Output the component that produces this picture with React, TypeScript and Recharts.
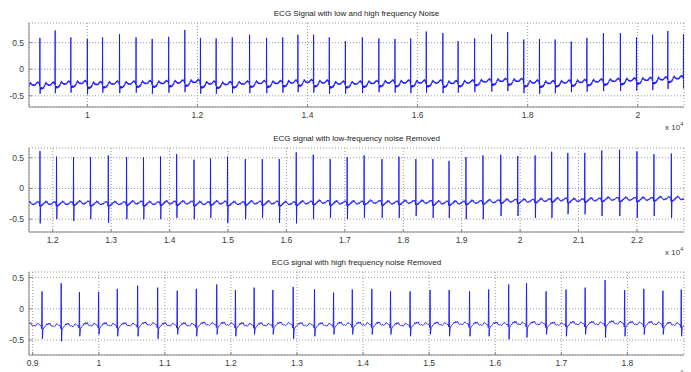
import React from 'react';
import { LineChart, Line, XAxis, YAxis, CartesianGrid } from 'recharts';

// ---------- Panel 1: ECG Signal with low and high frequency Noise ----------
const beatPos1 = [8850, 9138, 9415, 9700, 10000, 10277, 10585, 10885, 11178, 11478, 11771, 12055, 12340, 12633, 12948, 13256, 13549, 13826, 14111, 14396, 14688, 14996, 15296, 15589, 15874, 16158, 16459, 16736, 17036, 17344, 17636, 17929, 18214, 18499, 18791, 19076, 19376, 19684, 19977, 20269, 20546, 20831];
const beatR1 = [0.62, 0.59, 0.73, 0.60, 0.57, 0.60, 0.66, 0.60, 0.57, 0.61, 0.74, 0.59, 0.58, 0.60, 0.65, 0.59, 0.60, 0.65, 0.65, 0.60, 0.53, 0.60, 0.58, 0.57, 0.58, 0.71, 0.68, 0.53, 0.58, 0.66, 0.70, 0.56, 0.57, 0.56, 0.52, 0.59, 0.68, 0.68, 0.60, 0.65, 0.72, 0.66];
const beatS1 = [-0.45, -0.46, -0.45, -0.44, -0.47, -0.44, -0.45, -0.44, -0.46, -0.44, -0.43, -0.46, -0.46, -0.45, -0.45, -0.45, -0.44, -0.43, -0.44, -0.46, -0.46, -0.45, -0.43, -0.44, -0.45, -0.44, -0.45, -0.44, -0.43, -0.42, -0.41, -0.45, -0.46, -0.45, -0.43, -0.42, -0.41, -0.41, -0.40, -0.39, -0.37, -0.36];
const beatBase1 = [-0.29, -0.29, -0.27, -0.26, -0.28, -0.27, -0.27, -0.26, -0.26, -0.25, -0.24, -0.27, -0.28, -0.27, -0.26, -0.26, -0.25, -0.24, -0.25, -0.27, -0.27, -0.26, -0.25, -0.25, -0.25, -0.25, -0.26, -0.25, -0.23, -0.22, -0.22, -0.25, -0.26, -0.25, -0.24, -0.23, -0.22, -0.21, -0.20, -0.19, -0.17, -0.15];
const xTicks1 = [10000, 12000, 14000, 16000, 18000, 20000];
const xDomain1 = [8940, 20840];
const yDomain1 = [-0.71, 0.87];

// ---------- Panel 2: ECG signal with low-frequency noise Removed ----------
const beatPos2 = [11490, 11782, 12065, 12356, 12646, 12951, 13264, 13554, 13845, 14121, 14418, 14701, 14992, 15297, 15587, 15878, 16168, 16459, 16749, 17040, 17330, 17635, 17926, 18216, 18507, 18783, 19073, 19364, 19669, 19959, 20257, 20540, 20816, 21107, 21397, 21702, 22000, 22290, 22588];
const beatR2 = [0.55, 0.61, 0.52, 0.51, 0.51, 0.54, 0.51, 0.51, 0.52, 0.56, 0.47, 0.49, 0.52, 0.48, 0.48, 0.48, 0.59, 0.55, 0.48, 0.51, 0.54, 0.48, 0.52, 0.48, 0.48, 0.45, 0.51, 0.54, 0.55, 0.53, 0.54, 0.60, 0.58, 0.58, 0.62, 0.63, 0.60, 0.56, 0.57];
const beatS2 = [-0.50, -0.57, -0.50, -0.53, -0.50, -0.56, -0.50, -0.50, -0.50, -0.48, -0.50, -0.48, -0.56, -0.50, -0.48, -0.56, -0.57, -0.50, -0.48, -0.50, -0.48, -0.48, -0.48, -0.45, -0.48, -0.48, -0.50, -0.50, -0.45, -0.45, -0.48, -0.48, -0.42, -0.42, -0.45, -0.45, -0.48, -0.45, -0.48];
const beatBase2 = [-0.26, -0.26, -0.26, -0.25, -0.26, -0.26, -0.25, -0.26, -0.25, -0.25, -0.26, -0.25, -0.26, -0.25, -0.25, -0.26, -0.25, -0.24, -0.25, -0.25, -0.24, -0.25, -0.24, -0.24, -0.25, -0.25, -0.24, -0.23, -0.22, -0.22, -0.21, -0.20, -0.21, -0.20, -0.19, -0.19, -0.19, -0.18, -0.18];
const xTicks2 = [12000, 13000, 14000, 15000, 16000, 17000, 18000, 19000, 20000, 21000, 22000];
const xDomain2 = [11594, 22805];
const yDomain2 = [-0.71, 0.66];

// ---------- Panel 3: ECG signal with high frequency noise Removed ----------
const beatPos3 = [8850, 9141, 9431, 9707, 9997, 10280, 10588, 10891, 11187, 11476, 11785, 12068, 12351, 12634, 12942, 13264, 13553, 13836, 14132, 14415, 14711, 15013, 15302, 15611, 15900, 16203, 16473, 16769, 17071, 17360, 17662, 17958, 18248, 18537, 18814];
const beatR3 = [0.30, 0.28, 0.41, 0.27, 0.27, 0.32, 0.37, 0.34, 0.29, 0.32, 0.39, 0.30, 0.34, 0.30, 0.35, 0.31, 0.26, 0.31, 0.32, 0.28, 0.28, 0.30, 0.30, 0.28, 0.31, 0.39, 0.41, 0.28, 0.31, 0.34, 0.46, 0.30, 0.32, 0.29, 0.31];
const beatS3 = [-0.45, -0.48, -0.52, -0.44, -0.41, -0.44, -0.44, -0.48, -0.41, -0.44, -0.41, -0.44, -0.41, -0.41, -0.48, -0.44, -0.41, -0.41, -0.41, -0.41, -0.44, -0.41, -0.44, -0.44, -0.44, -0.49, -0.46, -0.41, -0.44, -0.41, -0.46, -0.44, -0.41, -0.41, -0.44];
const beatBase3 = [-0.27, -0.28, -0.28, -0.27, -0.27, -0.27, -0.26, -0.27, -0.27, -0.26, -0.26, -0.27, -0.27, -0.26, -0.27, -0.27, -0.26, -0.26, -0.26, -0.27, -0.26, -0.26, -0.25, -0.26, -0.26, -0.25, -0.25, -0.26, -0.25, -0.25, -0.24, -0.25, -0.25, -0.26, -0.26];
const xTicks3 = [9000, 10000, 11000, 12000, 13000, 14000, 15000, 16000, 17000, 18000];
const xDomain3 = [8944, 18856];
const yDomain3 = [-0.74, 0.59];

const yTicks = [-0.5, 0, 0.5];

// Beat outlines: [phase within RR, kind (0 level, 1 R peak, 2 S trough), offset from level]
const shapeNoisy: [number, number, number][] = [
  [-0.035, 0, 0.03], [-0.015, 0, -0.03], [0, 1, 0], [0.012, 2, 0],
  [0.03, 0, -0.05], [0.05, 0, -0.09], [0.07, 0, -0.05], [0.09, 0, -0.08], [0.11, 0, -0.05],
  [0.13, 0, -0.09], [0.16, 0, -0.06], [0.19, 0, -0.08], [0.22, 0, -0.04], [0.25, 0, -0.07],
  [0.28, 0, -0.02], [0.31, 0, -0.04], [0.34, 0, 0.02], [0.37, 0, 0.0], [0.40, 0, 0.05],
  [0.43, 0, 0.01], [0.46, 0, 0.03], [0.49, 0, -0.01], [0.52, 0, 0.01], [0.55, 0, -0.02],
  [0.58, 0, 0.01], [0.61, 0, -0.02], [0.64, 0, 0.0], [0.67, 0, -0.02], [0.70, 0, 0.01],
  [0.73, 0, -0.01], [0.76, 0, 0.03], [0.79, 0, 0.01], [0.82, 0, 0.05], [0.85, 0, 0.03],
  [0.88, 0, 0.06], [0.91, 0, 0.02], [0.94, 0, 0.04],
];
const shapeLowRemoved: [number, number, number][] = [
  [-0.035, 0, 0.02], [-0.015, 0, -0.03], [0, 1, 0], [0.015, 2, 0],
  [0.035, 0, -0.05], [0.06, 0, -0.01], [0.09, 0, -0.03], [0.12, 0, 0.0], [0.15, 0, -0.02],
  [0.19, 0, 0.02], [0.23, 0, 0.0], [0.27, 0, 0.04], [0.31, 0, 0.02], [0.35, 0, 0.06],
  [0.39, 0, 0.03], [0.43, 0, 0.05], [0.47, 0, 0.01], [0.51, 0, 0.02], [0.55, 0, -0.01],
  [0.59, 0, 0.01], [0.63, 0, -0.01], [0.67, 0, 0.02], [0.71, 0, 0.0], [0.75, 0, 0.03],
  [0.79, 0, 0.02], [0.83, 0, 0.05], [0.87, 0, 0.03], [0.91, 0, 0.05], [0.95, 0, 0.02],
];
const shapeHighRemoved: [number, number, number][] = [
  [-0.04, 0, 0.0], [-0.02, 0, -0.04], [0, 1, 0], [0.02, 2, 0],
  [0.045, 0, -0.07], [0.07, 0, -0.04], [0.1, 0, -0.02], [0.15, 0, -0.01], [0.2, 0, 0.01],
  [0.25, 0, 0.04], [0.29, 0, 0.02], [0.33, 0, 0.05], [0.37, 0, 0.03], [0.41, 0, 0.05],
  [0.46, 0, 0.01], [0.52, 0, 0.0], [0.58, 0, 0.01], [0.64, 0, -0.01], [0.70, 0, 0.01],
  [0.76, 0, 0.04], [0.82, 0, 0.03], [0.88, 0, 0.01], [0.93, 0, 0.01],
];

function buildSeries(pos: number[], r: number[], s: number[], base: number[], shape: [number, number, number][]) {
  const out: { x: number; y: number }[] = [];
  for (let i = 0; i < pos.length; i++) {
    const rr = i < pos.length - 1 ? pos[i + 1] - pos[i] : pos[i] - pos[i - 1];
    for (const [ph, kind, off] of shape) {
      const x = pos[i] + ph * rr;
      const y = kind === 1 ? r[i] : kind === 2 ? s[i] : base[i] + off;
      out.push({ x, y });
    }
  }
  return out;
}

const data1 = buildSeries(beatPos1, beatR1, beatS1, beatBase1, shapeNoisy);
const data2 = buildSeries(beatPos2, beatR2, beatS2, beatBase2, shapeLowRemoved);
const data3 = buildSeries(beatPos3, beatR3, beatS3, beatBase3, shapeHighRemoved);

const FONT = '"Liberation Sans", Arial, Helvetica, sans-serif';
const BOX = '#858585';
const LABEL = '#3a3a3a';
const TICK_FS = 8.5;

const fmtX = (v: number) => String(v / 10000);
const fmtY = (v: number) => (v === 0 ? '0' : String(v));

const BottomTick = (p: any) => (
  <g>
    <line x1={p.x} x2={p.x} y1={p.y - 5} y2={p.y - 8} stroke={BOX} />
    <text x={p.x} y={p.y} dy="0.71em" textAnchor="middle" fontSize={TICK_FS} fontFamily={FONT} fill={LABEL}>
      {fmtX(p.payload.value)}
    </text>
  </g>
);
const TopTick = (p: any) => <line x1={p.x} x2={p.x} y1={p.y} y2={p.y + 3} stroke={BOX} />;
const LeftTick = (p: any) => (
  <g>
    <line x1={p.x + 5} x2={p.x + 8} y1={p.y} y2={p.y} stroke={BOX} />
    <text x={p.x} y={p.y} dy="0.35em" textAnchor="end" fontSize={TICK_FS} fontFamily={FONT} fill={LABEL}>
      {fmtY(p.payload.value)}
    </text>
  </g>
);
const RightTick = (p: any) => <line x1={p.x} x2={p.x - 3} y1={p.y} y2={p.y} stroke={BOX} />;

type PanelProps = {
  top: number;
  height: number;
  data: { x: number; y: number }[];
  xDomain: number[];
  xTicks: number[];
  yDomain: number[];
  title: string;
};

function Panel({ top, height, data, xDomain, xTicks, yDomain, title }: PanelProps) {
  const plotTop = 23;
  const plotBottom = height - 18;
  return (
    <div style={{ position: 'absolute', left: 0, top, width: 691, height }}>
      <div
        style={{
          position: 'absolute',
          left: 29,
          width: 655,
          top: plotTop - 14,
          height: 10,
          lineHeight: '10px',
          fontSize: 8,
          fontFamily: FONT,
          color: '#222',
          textAlign: 'center',
          whiteSpace: 'nowrap',
        }}
      >
        {title}
      </div>
      <div
        style={{
          position: 'absolute',
          left: 665,
          top: plotBottom + 16,
          height: 10,
          lineHeight: '10px',
          fontSize: 8,
          fontFamily: FONT,
          color: LABEL,
          whiteSpace: 'nowrap',
        }}
      >
        x 10<span style={{ fontSize: 5.5, position: 'relative', top: -4 }}>4</span>
      </div>
      <div style={{ position: 'absolute', left: 0, top: 0 }}>
        <LineChart width={691} height={height} data={data} margin={{ top: plotTop, right: 7, bottom: 0, left: 0 }}>
          <CartesianGrid xAxisId="b" yAxisId="l" stroke="#9a9a9a" strokeDasharray="1 2" strokeWidth={1} />
          <XAxis
            xAxisId="b"
            dataKey="x"
            type="number"
            orientation="bottom"
            domain={xDomain}
            allowDataOverflow
            ticks={xTicks}
            interval={0}
            height={18}
            tickSize={0}
            tickMargin={5}
            tickLine={false}
            axisLine={{ stroke: BOX }}
            tick={BottomTick}
          />
          <XAxis
            xAxisId="t"
            dataKey="x"
            type="number"
            orientation="top"
            domain={xDomain}
            allowDataOverflow
            ticks={xTicks}
            interval={0}
            height={0}
            tickSize={0}
            tickMargin={0}
            tickLine={false}
            axisLine={{ stroke: BOX }}
            tick={TopTick}
          />
          <YAxis
            yAxisId="l"
            type="number"
            orientation="left"
            domain={yDomain}
            allowDataOverflow
            ticks={yTicks}
            interval={0}
            width={29}
            tickSize={0}
            tickMargin={5}
            tickLine={false}
            axisLine={{ stroke: BOX }}
            tick={LeftTick}
          />
          <YAxis
            yAxisId="r"
            type="number"
            orientation="right"
            domain={yDomain}
            allowDataOverflow
            ticks={yTicks}
            interval={0}
            width={0}
            tickSize={0}
            tickMargin={0}
            tickLine={false}
            axisLine={{ stroke: BOX }}
            tick={RightTick}
          />
          <Line
            xAxisId="b"
            yAxisId="l"
            dataKey="y"
            type="linear"
            stroke="#1010ff"
            strokeWidth={0.85}
            dot={false}
            activeDot={false}
            isAnimationActive={false}
          />
        </LineChart>
      </div>
    </div>
  );
}

export default function App() {
  return (
    <div style={{ position: 'absolute', left: 0, top: 0, width: 691, height: 372, background: '#fff', overflow: 'hidden' }}>
      <Panel top={0} height={125} data={data1} xDomain={xDomain1} xTicks={xTicks1} yDomain={yDomain1} title="ECG Signal with low and high frequency Noise" />
      <Panel top={125} height={125} data={data2} xDomain={xDomain2} xTicks={xTicks2} yDomain={yDomain2} title="ECG signal with low-frequency noise Removed" />
      <Panel top={249} height={124} data={data3} xDomain={xDomain3} xTicks={xTicks3} yDomain={yDomain3} title="ECG signal with high frequency noise Removed" />
    </div>
  );
}
